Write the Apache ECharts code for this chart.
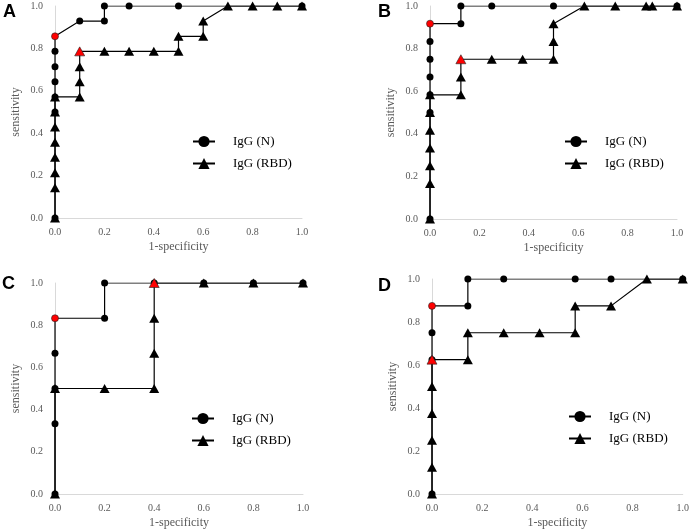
<!DOCTYPE html>
<html><head><meta charset="utf-8">
<script src="https://cdn.jsdelivr.net/npm/echarts@6/dist/echarts.min.js"></script>
<style>html,body{margin:0;padding:0;background:#fff}#c{width:692px;height:530px}</style>
</head><body><div id="c"></div>
<script>
// ---- data (x = 1-specificity, y = sensitivity) ----
var panelLabels = ['A', 'B', 'C', 'D'];
var seriesNames = ['IgG (N)', 'IgG (RBD)'];
var tickLabels = ['0.0', '0.2', '0.4', '0.6', '0.8', '1.0'];

var A_N = [[0,0],[0,0.5],[0,0.571],[0,0.643],[0,0.714],[0,0.786],[0,0.857],[0.1,0.929],[0.2,0.929],[0.2,1],[0.3,1],[0.5,1],[1,1]];
var A_RBD = [[0,0],[0,0.143],[0,0.214],[0,0.286],[0,0.357],[0,0.429],[0,0.5],[0,0.571],[0.1,0.571],[0.1,0.643],[0.1,0.714],[0.1,0.786],[0.2,0.786],[0.3,0.786],[0.4,0.786],[0.5,0.786],[0.5,0.857],[0.6,0.857],[0.6,0.929],[0.7,1],[0.8,1],[0.9,1],[1,1]];
var A_red = [[0,0.857],[0.1,0.786]];

var B_N = [[0,0],[0,0.5],[0,0.583],[0,0.667],[0,0.75],[0,0.833],[0,0.917],[0.125,0.917],[0.125,1],[0.25,1],[0.5,1],[1,1]];
var B_RBD = [[0,0],[0,0.167],[0,0.25],[0,0.333],[0,0.417],[0,0.5],[0,0.583],[0.125,0.583],[0.125,0.667],[0.125,0.75],[0.25,0.75],[0.375,0.75],[0.5,0.75],[0.5,0.833],[0.5,0.917],[0.625,1],[0.75,1],[0.875,1],[0.9,1],[1,1]];
var B_red = [[0,0.917],[0.125,0.75]];

var C_N = [[0,0],[0,0.333],[0,0.5],[0,0.667],[0,0.833],[0.2,0.833],[0.2,1],[0.4,1],[0.6,1],[0.8,1],[1,1]];
var C_RBD = [[0,0],[0,0.5],[0.2,0.5],[0.4,0.5],[0.4,0.667],[0.4,0.833],[0.4,1],[0.6,1],[0.8,1],[1,1]];
var C_red = [[0,0.833],[0.4,1]];

var D_N = [[0,0],[0,0.625],[0,0.75],[0,0.875],[0.143,0.875],[0.143,1],[0.286,1],[0.571,1],[0.714,1],[1,1]];
var D_RBD = [[0,0],[0,0.125],[0,0.25],[0,0.375],[0,0.5],[0,0.625],[0.143,0.625],[0.143,0.75],[0.286,0.75],[0.429,0.75],[0.571,0.75],[0.571,0.875],[0.714,0.875],[0.857,1],[1,1]];
var D_red = [[0,0.875],[0,0.625]];

var panelData = [[A_N, A_RBD, A_red], [B_N, B_RBD, B_red], [C_N, C_RBD, C_red], [D_N, D_RBD, D_red]];

// ---- layout ----
var grids = [
  {left: 55, top: 6, width: 247, height: 212},
  {left: 430, top: 6, width: 247, height: 213},
  {left: 55, top: 283, width: 248, height: 212},
  {left: 432, top: 279, width: 252, height: 215}
];
var legendPos = [
  {left: 187, top: 130},
  {left: 559, top: 130},
  {left: 186, top: 407},
  {left: 563, top: 405}
];
var letterPos = [[3, 3], [378, 3], [2, 275], [378, 277]];

var serif = '"Liberation Serif", "DejaVu Serif", serif';
var option = {
  animation: false,
  backgroundColor: '#fff',
  grid: [], xAxis: [], yAxis: [], series: [], legend: [], graphic: []
};

function mk(points, red, isTri) {
  return points.map(function (p) {
    var r = red[isTri ? 1 : 0];
    if (p[0] === r[0] && p[1] === r[1]) {
      return {value: p, itemStyle: {color: '#ff0000', borderColor: '#222', borderWidth: 0.6}};
    }
    return p;
  });
}

panelData.forEach(function (pd, k) {
  option.grid.push(Object.assign({containLabel: false}, grids[k]));
  option.xAxis.push({
    gridIndex: k, type: 'value', min: 0, max: 1, interval: 0.2,
    name: '1-specificity', nameLocation: 'middle', nameGap: 23,
    nameTextStyle: {fontFamily: serif, fontSize: 12, color: '#595959'},
    axisLine: {show: true, lineStyle: {color: '#d9d9d9', width: 1}},
    axisTick: {show: false}, splitLine: {show: false},
    axisLabel: {fontFamily: serif, fontSize: 10, color: '#595959', margin: 9,
      formatter: function (v) { return tickLabels[Math.round(v / 0.2)]; }}
  });
  option.yAxis.push({
    gridIndex: k, type: 'value', min: 0, max: 1, interval: 0.2,
    name: 'sensitivity', nameLocation: 'middle', nameGap: 33, nameRotate: 90,
    nameTextStyle: {fontFamily: serif, fontSize: 12, color: '#595959'},
    axisLine: {show: true, onZero: false, lineStyle: {color: '#d9d9d9', width: 1}},
    axisTick: {show: false}, splitLine: {show: false},
    axisLabel: {fontFamily: serif, fontSize: 10, color: '#595959', margin: 12,
      formatter: function (v) { return tickLabels[Math.round(v / 0.2)]; }}
  });
  option.series.push({
    name: seriesNames[0], type: 'line', xAxisIndex: k, yAxisIndex: k,
    data: mk(pd[0], pd[2], false), symbol: 'circle', symbolSize: 7,
    lineStyle: {color: '#000', width: 1.2}, itemStyle: {color: '#000'}, z: 3
  });
  option.series.push({
    name: seriesNames[1], type: 'line', xAxisIndex: k, yAxisIndex: k,
    data: mk(pd[1], pd[2], true), symbol: 'triangle', symbolSize: [10, 9],
    lineStyle: {color: '#000', width: 1.2}, itemStyle: {color: '#000'}, z: 4
  });
  option.legend.push({
    left: legendPos[k].left, top: legendPos[k].top, orient: 'vertical',
    data: seriesNames, itemWidth: 22, itemHeight: 14, itemGap: 9,
    selectedMode: false,
    textStyle: {fontFamily: serif, fontSize: 13, color: '#000', padding: [0, 0, 0, 13]}
  });
  option.graphic.push({
    type: 'text', left: letterPos[k][0], top: letterPos[k][1],
    style: {text: panelLabels[k], font: 'bold 18px "Liberation Sans", Arial, sans-serif', fill: '#000'}
  });
});

var chart = echarts.init(document.getElementById('c'), null, {renderer: 'canvas'});
chart.setOption(option);
</script></body></html>
